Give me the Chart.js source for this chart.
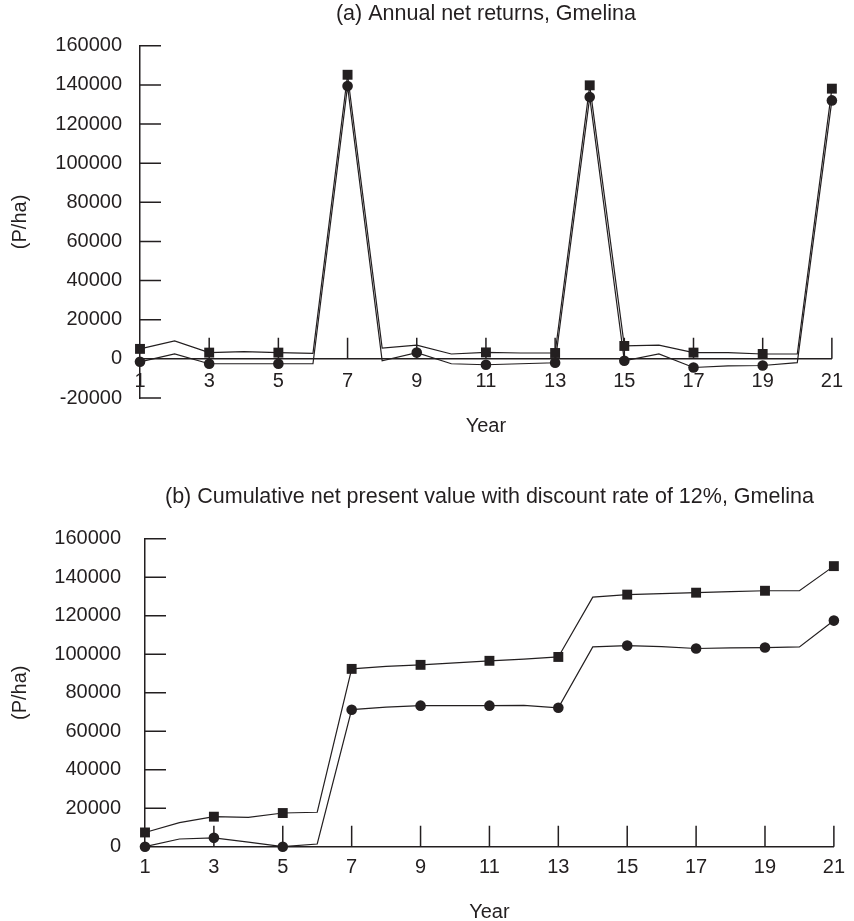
<!DOCTYPE html>
<html>
<head>
<meta charset="utf-8">
<script src="https://cdn.jsdelivr.net/npm/chart.js@4/dist/chart.umd.min.js"></script>
<style>
  body { margin: 0; background: #fff; }
  canvas { display: block; }
</style>
</head>
<body>
<canvas id="chartA" width="854" height="460"></canvas>
<canvas id="chartB" width="854" height="461"></canvas>
<script>
const years = [1,2,3,4,5,6,7,8,9,10,11,12,13,14,15,16,17,18,19,20,21];
const tickYears = [1,3,5,7,9,11,13,15,17,19,21];

// (a) annual net returns, P/ha
const annualSquare = [5100, 9200, 3200, 3700, 3200, 2800, 145200, 5500, 7000, 2500, 3300, 3000, 3000, 139800, 6600, 7000, 3200, 3200, 2500, 2500, 138100];
const annualCircle = [-1500, 2500, -2500, -2500, -2500, -2500, 139400, -1000, 3200, -2500, -3000, -2500, -2000, 133800, -1000, 2500, -4400, -3600, -3400, -1900, 132100];
const annualSquareMarks = [1,3,5,7,11,13,14,15,17,19,21];
const annualCircleMarks = [1,3,5,7,9,11,13,14,15,17,19,21];

// (b) cumulative NPV at 12%, P/ha
const cumSquare = [7400, 12500, 15600, 15200, 17500, 17900, 92400, 93700, 94500, 95500, 96600, 97500, 98600, 129700, 131000, 131500, 132000, 132500, 133000, 133000, 145800];
const cumCircle = [0, 4000, 4600, 2400, 0, 1400, 71200, 72500, 73300, 73300, 73300, 73400, 72200, 103800, 104500, 104000, 103000, 103300, 103500, 103800, 117500];
const cumMarks = [1,3,5,7,9,11,13,15,17,19,21];

const ink = "#231f20";
const font = { family: "'Liberation Sans', Arial, Helvetica, sans-serif", size: 20 };

function radii(marks, r) {
  return years.map(y => marks.includes(y) ? r : 0);
}

function series(data, marks, style, r) {
  return {
    data: data,
    borderColor: ink,
    borderWidth: 1.2,
    backgroundColor: ink,
    pointBackgroundColor: ink,
    pointBorderWidth: 0,
    pointStyle: style,
    pointRadius: radii(marks, r),
    tension: 0,
    clip: false
  };
}

// tick marks pointing into the plot, like the original figure
const inwardTicks = {
  id: "inwardTicks",
  beforeDatasetsDraw(chart, args, opts) {
    const { ctx, chartArea } = chart;
    const xs = chart.scales.x, ys = chart.scales.y;
    const base = ys.getPixelForValue(opts.base);
    ctx.save();
    ctx.strokeStyle = ink;
    ctx.lineWidth = 1.5;
    ctx.beginPath();
    ys.ticks.forEach(t => {
      if (t.value === opts.base) return;
      const p = ys.getPixelForValue(t.value);
      ctx.moveTo(chartArea.left, p);
      ctx.lineTo(chartArea.left + opts.length, p);
    });
    xs.ticks.forEach(t => {
      if (t.value === xs.min) return;
      const p = xs.getPixelForValue(t.value);
      ctx.moveTo(p, base);
      ctx.lineTo(p, base - opts.length);
    });
    ctx.stroke();
    ctx.restore();
  }
};

Chart.defaults.font = font;
Chart.defaults.color = ink;

new Chart(document.getElementById("chartA"), {
  type: "line",
  data: {
    labels: years,
    datasets: [
      series(annualSquare, annualSquareMarks, "rect", 7),
      series(annualCircle, annualCircleMarks, "circle", 5.3)
    ]
  },
  options: {
    responsive: false,
    animation: false,
    layout: { padding: { top: 0, right: 18, bottom: 62, left: 0 } },
    plugins: {
      legend: { display: false },
      tooltip: { enabled: false },
      title: {
        display: true, fullSize: false,
        text: "(a) Annual net returns, Gmelina",
        font: { size: 21.5, weight: "normal" },
        padding: { top: 1, bottom: 19 }
      },
      inwardTicks: { base: 0, length: 21 }
    },
    scales: {
      x: {
        type: "linear",
        position: { y: 0 },
        min: 1, max: 21,
        afterBuildTicks: s => { s.ticks = tickYears.map(v => ({ value: v })); },
        grid: { display: false, drawTicks: false },
        border: { display: true, color: ink, width: 1.5 },
        ticks: { padding: 11, callback: v => String(v) },
        title: { display: true, text: "Year", font: { size: 20 }, padding: { top: 10, bottom: 0 } }
      },
      y: {
        min: -20000, max: 160000,
        afterFit: s => { s.width = 140; },
        grid: { display: false, drawTicks: false },
        border: { display: true, color: ink, width: 1.5 },
        ticks: { stepSize: 20000, padding: 18, callback: v => String(v) },
        title: { display: true, text: "(P/ha)", font: { size: 20 }, padding: { top: 8, bottom: 0 } }
      }
    }
  },
  plugins: [inwardTicks]
});

new Chart(document.getElementById("chartB"), {
  type: "line",
  data: {
    labels: years,
    datasets: [
      series(cumSquare, cumMarks, "rect", 7),
      series(cumCircle, cumMarks, "circle", 5.3)
    ]
  },
  options: {
    responsive: false,
    animation: false,
    layout: { padding: { top: 0, right: 11, bottom: 0, left: 0 } },
    plugins: {
      legend: { display: false },
      tooltip: { enabled: false },
      title: {
        display: true, fullSize: false,
        text: "(b) Cumulative net present value with discount rate of 12%, Gmelina",
        font: { size: 21.5, weight: "normal" },
        padding: { top: 24, bottom: 29 }
      },
      inwardTicks: { base: 0, length: 21 }
    },
    scales: {
      x: {
        type: "linear",
        min: 1, max: 21,
        afterBuildTicks: s => { s.ticks = tickYears.map(v => ({ value: v })); },
        afterFit: s => { s.height = 74.3; },
        grid: { display: false, drawTicks: false },
        border: { display: true, color: ink, width: 1.5 },
        ticks: { padding: 9, callback: v => String(v) },
        title: { display: true, text: "Year", font: { size: 20 }, padding: { top: 16, bottom: -3 } }
      },
      y: {
        min: 0, max: 160000,
        afterFit: s => { s.width = 145; },
        grid: { display: false, drawTicks: false },
        border: { display: true, color: ink, width: 1.5 },
        ticks: { stepSize: 20000, padding: 24, callback: v => String(v) },
        title: { display: true, text: "(P/ha)", font: { size: 20 }, padding: { top: 8, bottom: 0 } }
      }
    }
  },
  plugins: [inwardTicks]
});
</script>
</body>
</html>
